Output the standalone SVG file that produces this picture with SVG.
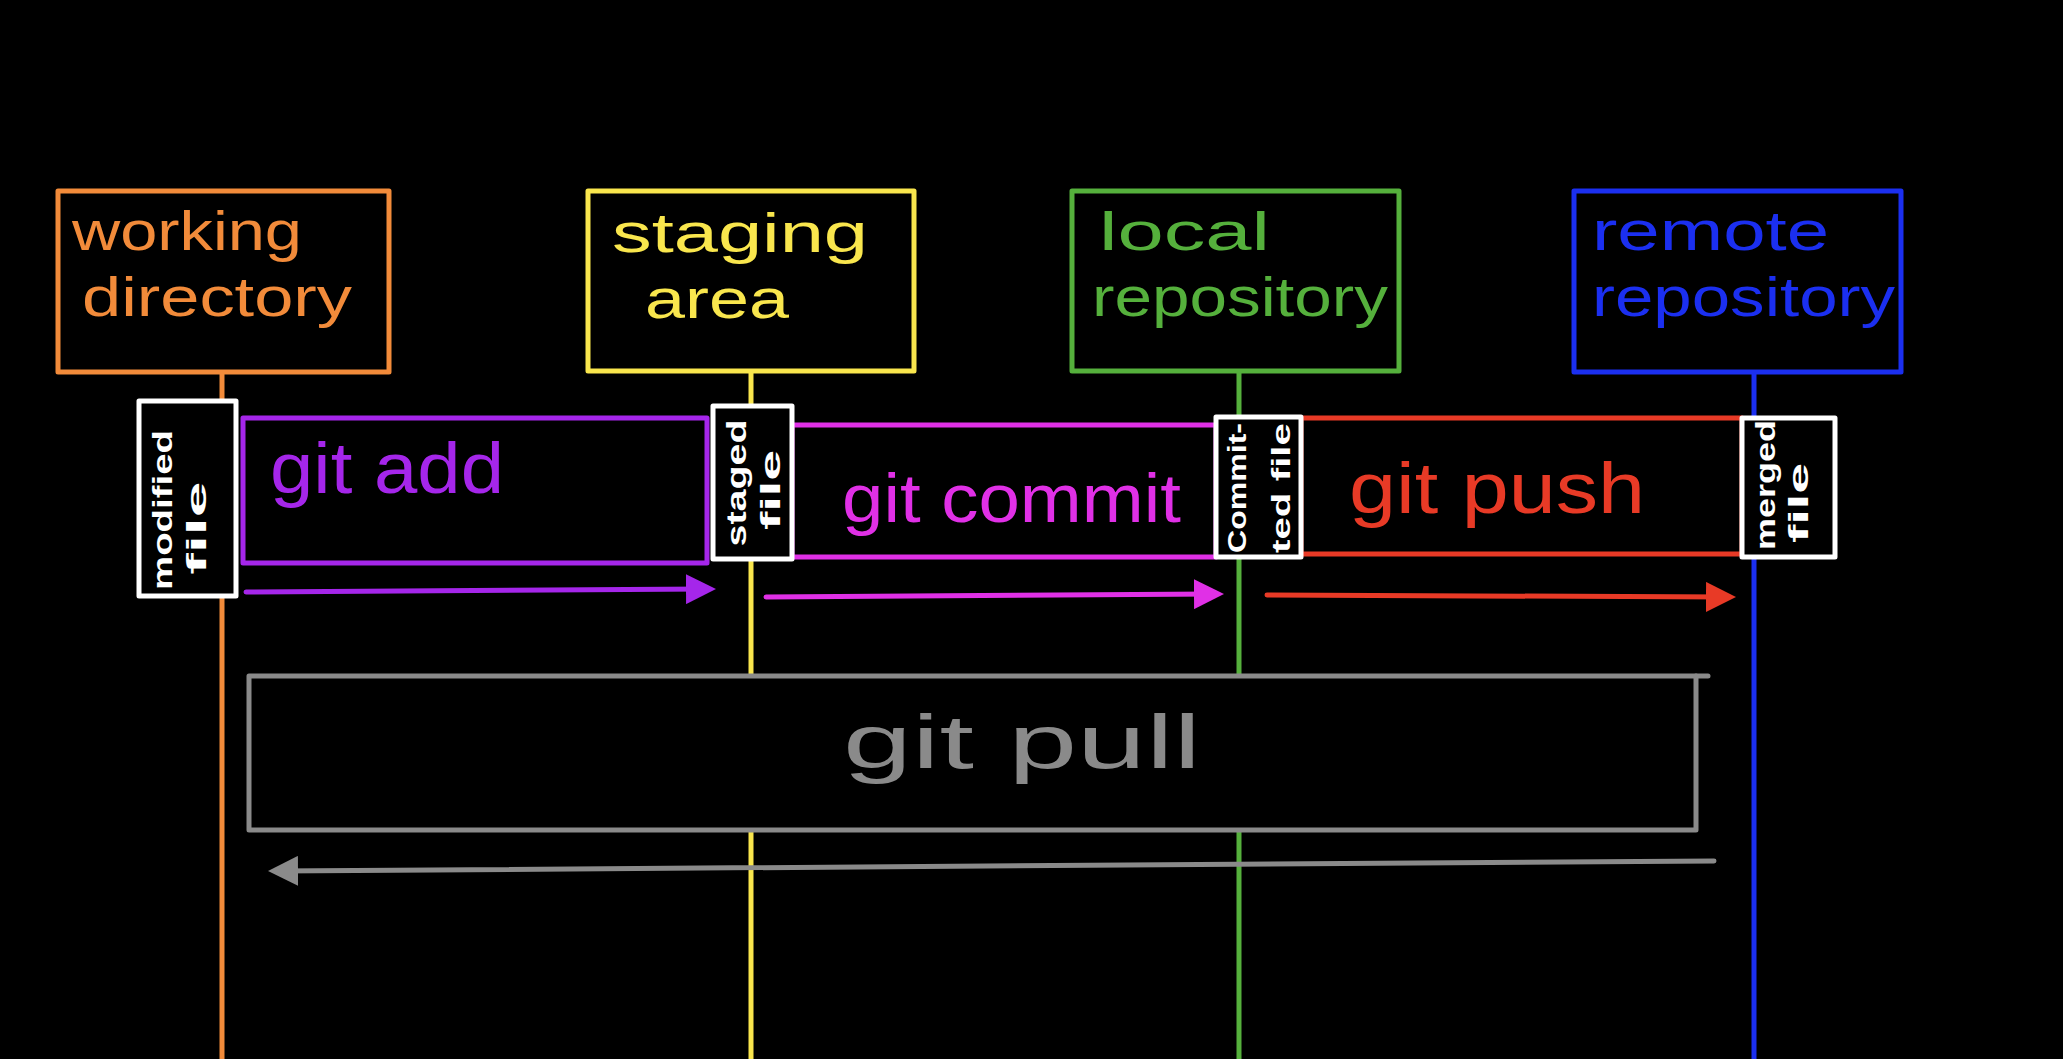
<svg xmlns="http://www.w3.org/2000/svg" width="2063" height="1059" viewBox="0 0 2063 1059">
<style>
.box{fill:#000;stroke-width:5;stroke-linejoin:round}
.life{stroke-width:5;fill:none}
.h{font-family:"Liberation Sans",Arial,sans-serif;font-size:56px}
.a{font-family:"Liberation Sans",Arial,sans-serif;font-size:72px}
.s{font-family:"Liberation Sans",Arial,sans-serif;font-size:28px;font-weight:bold;fill:#fff;text-anchor:middle}
.wb{fill:#000;stroke:#fff;stroke-width:5;stroke-linejoin:round}
.arr{stroke-width:5;fill:none;stroke-linecap:round}
</style>
<defs>
<marker id="mp" markerWidth="6" markerHeight="6" refX="4" refY="3" orient="auto" markerUnits="strokeWidth"><path d="M0,0 L6,3 L0,6 Z" fill="#a526ea"/></marker>
<marker id="mm" markerWidth="6" markerHeight="6" refX="4" refY="3" orient="auto" markerUnits="strokeWidth"><path d="M0,0 L6,3 L0,6 Z" fill="#e030e6"/></marker>
<marker id="mr" markerWidth="6" markerHeight="6" refX="4" refY="3" orient="auto" markerUnits="strokeWidth"><path d="M0,0 L6,3 L0,6 Z" fill="#e83a26"/></marker>
<marker id="mg" markerWidth="6" markerHeight="6" refX="4" refY="3" orient="auto" markerUnits="strokeWidth"><path d="M0,0 L6,3 L0,6 Z" fill="#8a8a8a"/></marker>
</defs>
<rect width="2063" height="1059" fill="#000"/>
<g id="lifelines">
<line class="life" x1="222" y1="372" x2="222" y2="1059" stroke="#f28b3a"/>
<line class="life" x1="751" y1="371" x2="751" y2="1059" stroke="#f9e64d"/>
<line class="life" x1="1239" y1="371" x2="1239" y2="1059" stroke="#55b03c"/>
<line class="life" x1="1754" y1="372" x2="1754" y2="1059" stroke="#1b2ff0"/>
</g>
<g id="working-directory">
<rect class="box" x="58" y="191" width="331" height="181" stroke="#f28b3a"/>
<text class="h" fill="#f28b3a" x="72" y="250" textLength="230" lengthAdjust="spacingAndGlyphs">working</text>
<text class="h" fill="#f28b3a" x="82" y="316" textLength="270" lengthAdjust="spacingAndGlyphs">directory</text>
</g>
<g id="staging-area">
<rect class="box" x="588" y="191" width="326" height="180" stroke="#f9e64d"/>
<text class="h" fill="#f9e64d" x="612" y="252" textLength="256" lengthAdjust="spacingAndGlyphs">staging</text>
<text class="h" fill="#f9e64d" x="645" y="318" textLength="144" lengthAdjust="spacingAndGlyphs">area</text>
</g>
<g id="local-repository">
<rect class="box" x="1072" y="191" width="327" height="180" stroke="#55b03c"/>
<text class="h" fill="#55b03c" x="1099" y="250" textLength="171" lengthAdjust="spacingAndGlyphs" style="font-size:54px">local</text>
<text class="h" fill="#55b03c" x="1092" y="316" textLength="296" lengthAdjust="spacingAndGlyphs">repository</text>
</g>
<g id="remote-repository">
<rect class="box" x="1574" y="191" width="327" height="181" stroke="#1b2ff0"/>
<text class="h" fill="#1b2ff0" x="1592" y="250" textLength="237" lengthAdjust="spacingAndGlyphs" style="font-size:56px">remote</text>
<text class="h" fill="#1b2ff0" x="1592" y="316" textLength="303" lengthAdjust="spacingAndGlyphs">repository</text>
</g>
<g id="git-add">
<rect class="box" x="243" y="418" width="464" height="145" stroke="#a526ea"/>
<text class="a" fill="#a526ea" x="270" y="493" textLength="234" lengthAdjust="spacingAndGlyphs">git add</text>
</g>
<g id="git-commit">
<rect class="box" x="792" y="425" width="424" height="132" stroke="#e030e6"/>
<text class="a" fill="#e030e6" x="842" y="522" textLength="339" lengthAdjust="spacingAndGlyphs" style="font-size:68px">git commit</text>
</g>
<g id="git-push">
<rect class="box" x="1301" y="418" width="441" height="136" stroke="#e83a26"/>
<text class="a" fill="#e83a26" x="1349" y="513" textLength="296" lengthAdjust="spacingAndGlyphs">git push</text>
</g>
<g id="git-pull">
<rect class="box" x="249" y="676" width="1447" height="154" stroke="#8a8a8a"/>
<line x1="1696" y1="676" x2="1708" y2="676" stroke="#8a8a8a" stroke-width="5" stroke-linecap="round"/>
<text class="a" fill="#8a8a8a" x="843" y="768" textLength="358" lengthAdjust="spacingAndGlyphs" style="font-size:76px">git pull</text>
</g>
<g id="modified-file">
<rect class="wb" x="139" y="401" width="97" height="195"/>
<text class="s" transform="translate(172,510) rotate(-90)" textLength="160" lengthAdjust="spacingAndGlyphs">modified</text>
<text class="s" transform="translate(206,528) rotate(-90)" textLength="93" lengthAdjust="spacingAndGlyphs">file</text>
</g>
<g id="staged-file">
<rect class="wb" x="713" y="406" width="79" height="153"/>
<text class="s" transform="translate(746,483) rotate(-90)" textLength="127" lengthAdjust="spacingAndGlyphs">staged</text>
<text class="s" transform="translate(780,490) rotate(-90)" textLength="80" lengthAdjust="spacingAndGlyphs">file</text>
</g>
<g id="committed-file">
<rect class="wb" x="1216" y="417" width="85" height="140"/>
<text class="s" transform="translate(1246,488) rotate(-90)" textLength="130" lengthAdjust="spacingAndGlyphs" style="font-size:25px">Commit-</text>
<text class="s" transform="translate(1290,488) rotate(-90)" textLength="130" lengthAdjust="spacingAndGlyphs" style="font-size:25px">ted file</text>
</g>
<g id="merged-file">
<rect class="wb" x="1742" y="418" width="93" height="139"/>
<text class="s" transform="translate(1775,485) rotate(-90)" textLength="130" lengthAdjust="spacingAndGlyphs">merged</text>
<text class="s" transform="translate(1808,503) rotate(-90)" textLength="80" lengthAdjust="spacingAndGlyphs">file</text>
</g>
<g id="connectors">
<line class="arr" x1="246" y1="592" x2="706" y2="589" stroke="#a526ea" marker-end="url(#mp)"/>
<line class="arr" x1="766" y1="597" x2="1214" y2="594" stroke="#e030e6" marker-end="url(#mm)"/>
<line class="arr" x1="1267" y1="595" x2="1726" y2="597" stroke="#e83a26" marker-end="url(#mr)"/>
<line class="arr" x1="1714" y1="861" x2="278" y2="871" stroke="#8a8a8a" marker-end="url(#mg)"/>
</g>
</svg>
